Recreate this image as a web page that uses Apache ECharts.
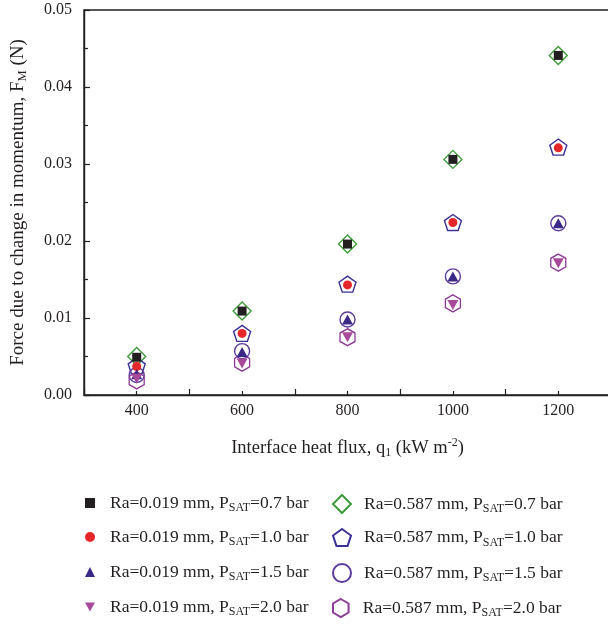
<!DOCTYPE html>
<html>
<head>
<meta charset="utf-8">
<script src="https://cdn.jsdelivr.net/npm/echarts@6/dist/echarts.min.js"></script>
<style>
  html, body { margin: 0; padding: 0; background: #fff; }
  #chart { width: 608px; height: 625px; }
</style>
</head>
<body>
<div id="chart"></div>
<script>
// Interface heat flux (kW m^-2)
const heatFlux = [400, 600, 800, 1000, 1200];
const yTicks = [0, 0.01, 0.02, 0.03, 0.04, 0.05];

// Force due to change in momentum F_M (N), Ra = 0.019 mm
const fm019_07 = [0.0049, 0.0109, 0.0196, 0.0306, 0.0441];
const fm019_10 = [0.0037, 0.0080, 0.0143, 0.0224, 0.0321];
const fm019_15 = [0.0027, 0.0056, 0.0098, 0.0154, 0.0223];
const fm019_20 = [0.0021, 0.0041, 0.0075, 0.0117, 0.0171];
// Ra = 0.587 mm
const fm587_07 = [0.0050, 0.0109, 0.0196, 0.0306, 0.0441];
const fm587_10 = [0.0038, 0.0080, 0.0144, 0.0224, 0.0322];
const fm587_15 = [0.0026, 0.0057, 0.0098, 0.0154, 0.0223];
const fm587_20 = [0.0019, 0.0042, 0.0075, 0.0119, 0.0172];

const seriesNames = [
  'Ra=0.019 mm, P_SAT=0.7 bar',
  'Ra=0.019 mm, P_SAT=1.0 bar',
  'Ra=0.019 mm, P_SAT=1.5 bar',
  'Ra=0.019 mm, P_SAT=2.0 bar',
  'Ra=0.587 mm, P_SAT=0.7 bar',
  'Ra=0.587 mm, P_SAT=1.0 bar',
  'Ra=0.587 mm, P_SAT=1.5 bar',
  'Ra=0.587 mm, P_SAT=2.0 bar'
];

const FONT = '"Liberation Serif", "DejaVu Serif", serif';
const INK = '#231f20';

const downTriangle = 'path://M0,0 L10,0 L5,9 Z';
const pentagon = 'path://M50,0 L97.6,34.5 L79.4,90.5 L20.6,90.5 L2.4,34.5 Z';
const hexagon = 'path://M50,0 L93.3,25 L93.3,75 L50,100 L6.7,75 L6.7,25 Z';

function pts(vals) {
  return heatFlux.map((x, i) => [x, vals[i]]);
}

function filled(name, vals, symbol, size, color) {
  return {
    name, type: 'scatter', data: pts(vals), symbol, symbolSize: size,
    itemStyle: { color: color, opacity: 1 }, z: 3
  };
}
function hollow(name, vals, symbol, size, color) {
  return {
    name, type: 'scatter', data: pts(vals), symbol, symbolSize: size,
    itemStyle: { color: 'transparent', borderColor: color, borderWidth: 1.4, opacity: 1 }, z: 2
  };
}

const series = [
  filled(seriesNames[0], fm019_07, 'rect', 9, INK),
  filled(seriesNames[1], fm019_10, 'circle', 9, '#e5262a'),
  filled(seriesNames[2], fm019_15, 'triangle', [11, 10], '#3b2a85'),
  filled(seriesNames[3], fm019_20, downTriangle, [11, 10], '#a84a9a'),
  hollow(seriesNames[4], fm587_07, 'diamond', 18, '#3e9a3a'),
  hollow(seriesNames[5], fm587_10, pentagon, [17, 16], '#3b3196'),
  hollow(seriesNames[6], fm587_15, 'circle', 15, '#5b3b9b'),
  hollow(seriesNames[7], fm587_20, hexagon, [15, 17], '#8c3b96')
];

const legendRich = {
  b: { fontFamily: FONT, fontSize: 17.5, color: INK, lineHeight: 22 },
  s: { fontFamily: FONT, fontSize: 12, color: INK, lineHeight: 14, verticalAlign: 'bottom' }
};
function legendFormatter(name) {
  const parts = name.split('_');
  const rest = parts[1];
  return '{b|' + parts[0] + '}{s|' + rest.slice(0, 3) + '}{b|' + rest.slice(3) + '}';
}

// one legend per entry, two columns of four rows
const legendRows = [502, 536, 571, 606];
function legendEntry(idx) {
  const col = idx < 4 ? 0 : 1;
  const row = idx % 4;
  const icon = col === 0 ? 10 : 18;
  return {
    orient: 'vertical',
    left: col === 0 ? 85 : 332,
    top: legendRows[row] - 8,
    itemWidth: icon,
    itemHeight: icon,
    selectedMode: false,
    padding: 0,
    data: [seriesNames[idx]],
    formatter: legendFormatter,
    textStyle: { fontFamily: FONT, fontSize: 17.5, color: INK, padding: [0, 0, 0, col === 0 ? 10 : 8], rich: legendRich }
  };
}

const option = {
  animation: false,
  backgroundColor: '#fff',
  grid: {
    left: 84, top: 10, width: 527, height: 385,
    outerBoundsMode: 'none',
    containLabel: false,
    show: true, borderColor: INK, borderWidth: 1.4, backgroundColor: 'transparent'
  },
  xAxis: {
    type: 'value', min: 300, max: 1300, interval: 200,
    position: 'bottom',
    axisLine: { show: true, onZero: false, lineStyle: { color: INK, width: 1.4 } },
    axisTick: { show: true, inside: true, length: 6, lineStyle: { color: INK, width: 1.2 } },
    minorTick: { show: true, splitNumber: 2, length: 4, lineStyle: { color: INK, width: 1.2 } },
    splitLine: { show: false },
    axisLabel: {
      margin: 8, fontFamily: FONT, fontSize: 16, color: INK,
      customValues: heatFlux,
      formatter: v => String(v)
    },
    name: '{b|Interface heat flux, q}{s|1}{b| (kW m}{p|-2}{b|)}',
    nameLocation: 'middle', nameGap: 42,
    nameTextStyle: {
      fontFamily: FONT, fontSize: 18.5, color: INK,
      rich: {
        b: { fontFamily: FONT, fontSize: 18.5, color: INK, lineHeight: 22 },
        s: { fontFamily: FONT, fontSize: 12, color: INK, lineHeight: 14, verticalAlign: 'bottom' },
        p: { fontFamily: FONT, fontSize: 12, color: INK, lineHeight: 14, verticalAlign: 'top' }
      }
    }
  },
  yAxis: {
    type: 'value', min: 0, max: 0.05, interval: 0.01,
    axisLine: { show: true, onZero: false, lineStyle: { color: INK, width: 1.4 } },
    axisTick: { show: true, inside: true, length: 6, lineStyle: { color: INK, width: 1.2 } },
    minorTick: { show: true, splitNumber: 2, length: 4, lineStyle: { color: INK, width: 1.2 } },
    splitLine: { show: false },
    axisLabel: {
      margin: 12, fontFamily: FONT, fontSize: 16, color: INK,
      customValues: yTicks,
      formatter: v => v.toFixed(2)
    },
    name: '{b|Force due to change in momentum, F}{s|M}{b| (N)}',
    nameLocation: 'middle', nameGap: 55,
    nameTextStyle: {
      fontFamily: FONT, fontSize: 19, color: INK,
      rich: {
        b: { fontFamily: FONT, fontSize: 19, color: INK, lineHeight: 22 },
        s: { fontFamily: FONT, fontSize: 12.5, color: INK, lineHeight: 14, verticalAlign: 'bottom' }
      }
    }
  },
  legend: seriesNames.map((_, i) => legendEntry(i)),
  series: series
};

const chart = echarts.init(document.getElementById('chart'), null, { renderer: 'canvas' });
chart.setOption(option);
</script>
</body>
</html>
